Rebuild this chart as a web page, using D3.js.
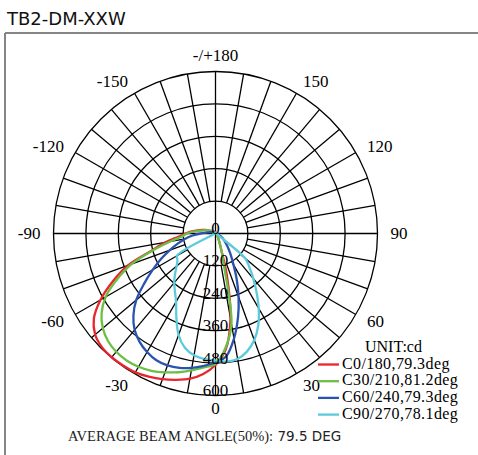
<!DOCTYPE html>
<html>
<head>
<meta charset="utf-8">
<script src="https://cdn.jsdelivr.net/npm/d3@7"></script>
<style>
    body { margin: 0; background: #fff; }
    svg { display: block; }
</style>
</head>
<body>
<svg id="polarSvg"></svg>
<script>
// polar candela diagram, drawn with d3

// measuring angles, -180 .. 175 step 5 (0 = straight down, negative = left)
let gammaAngles = [
    -180, -175, -170, -165, -160, -155, -150, -145, -140, -135, -130, -125,
    -120, -115, -110, -105, -100, -95, -90, -85, -80, -75, -70, -65,
    -60, -55, -50, -45, -40, -35, -30, -25, -20, -15, -10, -5,
    0, 5, 10, 15, 20, 25, 30, 35, 40, 45, 50, 55,
    60, 65, 70, 75, 80, 85, 90, 95, 100, 105, 110, 115,
    120, 125, 130, 135, 140, 145, 150, 155, 160, 165, 170, 175
];

// intensities in cd
let c0Values = [
    3, 3, 3, 4, 4, 5, 5, 6, 8, 10, 12, 15,
    20, 28, 38, 50, 68, 88, 110, 138, 188, 245, 345, 420,
    492, 550, 582, 595, 598, 597, 594, 585, 574, 561, 546, 522,
    487, 432, 320, 165, 58, 32, 20, 14, 11, 9, 8, 7,
    6, 6, 5, 5, 5, 4, 4, 4, 4, 4, 3, 3,
    3, 3, 3, 3, 3, 3, 3, 3, 3, 3, 3, 3
];
let c30Values = [
    3, 3, 3, 3, 4, 4, 5, 5, 7, 9, 11, 14,
    18, 25, 35, 45, 60, 83, 105, 125, 170, 240, 330, 402,
    470, 515, 545, 563, 572, 574, 570, 561, 547, 532, 515, 498,
    483, 425, 340, 120, 62, 32, 20, 14, 11, 9, 8, 7,
    6, 6, 5, 5, 5, 4, 4, 4, 4, 4, 3, 3,
    3, 3, 3, 3, 3, 3, 3, 3, 3, 3, 3, 3
];
let c60Values = [
    3, 3, 3, 3, 3, 4, 4, 4, 5, 6, 7, 9,
    10, 12, 15, 20, 25, 35, 55, 85, 115, 145, 180, 222,
    268, 322, 383, 430, 466, 490, 507, 518, 520, 515, 505, 492,
    478, 456, 395, 322, 250, 185, 133, 100, 76, 58, 45, 35,
    25, 18, 12, 9, 7, 6, 5, 5, 4, 4, 4, 3,
    3, 3, 3, 3, 3, 3, 3, 3, 3, 3, 3, 3
];
let c90Values = [
    3, 3, 3, 3, 3, 3, 3, 3, 3, 3, 4, 4,
    4, 4, 4, 4, 5, 5, 5, 6, 6, 7, 8, 15,
    165, 172, 188, 212, 238, 262, 292, 343, 400, 438, 458, 467,
    470, 476, 472, 452, 420, 375, 320, 265, 218, 178, 143, 20,
    10, 8, 6, 5, 5, 4, 4, 4, 4, 3, 3, 3,
    3, 3, 3, 3, 3, 3, 3, 3, 3, 3, 3, 3
];

let seriesNames = ["C0/180,79.3deg", "C30/210,81.2deg", "C60/240,79.3deg", "C90/270,78.1deg"];
let seriesColors = ["#e8262c", "#6cbf44", "#2a53b0", "#5ccadc"];

let ringValues = [120, 240, 360, 480, 600];
let ringLabels = ["120", "240", "360", "480", "600"];
let angleTicks = [180, -150, -120, -90, -60, -30, 0, 30, 60, 90, 120, 150];
let angleLabels = ["-/+180", "-150", "-120", "-90", "-60", "-30", "0", "30", "60", "90", "120", "150"];

let chartTitle = "TB2-DM-XXW";
let unitText = "UNIT:cd";
let footerText = "AVERAGE BEAM ANGLE(50%):";
let footerValue = " 79.5 DEG";

// layout
let svgWidth = 478, svgHeight = 455;
let center = {x: 215.5, y: 233.5};
let outerRadius = 162;
let labelRadius = 175;
let serifFont = "'Liberation Serif', 'Times New Roman', serif";
let sansFont = "'DejaVu Sans', sans-serif";

let rScale = d3.scaleLinear().domain([0, 600]).range([0, outerRadius]);

function toRad(deg) {
    return deg * Math.PI / 180;
}

function drawFrame(svg) {
    svg.append("line")
        .attr("x1", 5).attr("y1", 33).attr("x2", svgWidth).attr("y2", 33)
        .attr("stroke", "#858585").attr("stroke-width", 2);
    svg.append("line")
        .attr("x1", 5).attr("y1", 33).attr("x2", 5).attr("y2", svgHeight)
        .attr("stroke", "#858585").attr("stroke-width", 2);

    svg.append("text")
        .attr("x", 7).attr("y", 25)
        .attr("font-family", sansFont)
        .attr("font-size", 18)
        .attr("fill", "#111")
        .text(chartTitle);
}

function drawGrid(g) {
    g.selectAll("circle.ring")
        .data(ringValues)
        .enter()
        .append("circle")
        .attr("class", "ring")
        .attr("cx", 0).attr("cy", 0)
        .attr("r", function (d) { return rScale(d); })
        .attr("fill", "none")
        .attr("stroke", "#000")
        .attr("stroke-width", 1.3);

    // spokes every 10 deg, the main axes go right through the middle
    g.selectAll("line.spoke")
        .data(d3.range(0, 360, 10))
        .enter()
        .append("line")
        .attr("class", "spoke")
        .attr("x1", function (d) { return (d % 90 === 0 ? 0 : rScale(ringValues[0])) * Math.sin(toRad(d)); })
        .attr("y1", function (d) { return (d % 90 === 0 ? 0 : rScale(ringValues[0])) * Math.cos(toRad(d)); })
        .attr("x2", function (d) { return rScale(600) * Math.sin(toRad(d)); })
        .attr("y2", function (d) { return rScale(600) * Math.cos(toRad(d)); })
        .attr("stroke", "#000")
        .attr("stroke-width", 1.3);
}

function drawCurves(g) {
    let allSeries = [c0Values, c30Values, c60Values, c90Values];

    let radialLine = d3.lineRadial()
        .angle(function (d, i) { return Math.PI - toRad(gammaAngles[i]); })
        .radius(function (d) { return rScale(d); })
        .curve(d3.curveCatmullRomClosed.alpha(0.5));

    g.selectAll("path.curve")
        .data(allSeries)
        .enter()
        .append("path")
        .attr("class", "curve")
        .attr("d", function (d) { return radialLine(d); })
        .attr("fill", "none")
        .attr("stroke", function (d, i) { return seriesColors[i]; })
        .attr("stroke-width", 2.3)
        .attr("stroke-linejoin", "round");
}

function drawLabels(svg) {
    // ring values on the downward axis
    svg.selectAll("text.ringLabel")
        .data([0].concat(ringValues))
        .enter()
        .append("text")
        .attr("class", "ringLabel")
        .attr("x", center.x)
        .attr("y", function (d) { return center.y + rScale(d) - 5; })
        .attr("text-anchor", "middle")
        .attr("dominant-baseline", "central")
        .attr("font-family", serifFont)
        .attr("font-size", 17)
        .text(function (d, i) { return i === 0 ? "0" : ringLabels[i - 1]; });

    // angle labels sit just outside the ring, pushed away sideways
    svg.selectAll("text.angleLabel")
        .data(angleTicks)
        .enter()
        .append("text")
        .attr("class", "angleLabel")
        .attr("x", function (d) { return center.x + labelRadius * Math.sin(toRad(d)); })
        .attr("y", function (d) {
            let dy = labelRadius * Math.cos(toRad(d));
            return center.y + dy + (d === 180 ? -3 : 0);
        })
        .attr("text-anchor", function (d) {
            if (d === 0 || d === 180) return "middle";
            return d > 0 ? "start" : "end";
        })
        .attr("dominant-baseline", "central")
        .attr("font-family", serifFont)
        .attr("font-size", 17)
        .text(function (d, i) { return angleLabels[i]; });
}

function drawLegend(svg) {
    svg.append("text")
        .attr("x", 365).attr("y", 352)
        .attr("font-family", serifFont)
        .attr("font-size", 16)
        .text(unitText);

    let rows = svg.selectAll("g.legendRow")
        .data(seriesNames)
        .enter()
        .append("g")
        .attr("class", "legendRow")
        .attr("transform", function (d, i) { return "translate(0," + (368.5 + i * 16.7) + ")"; });

    rows.append("line")
        .attr("x1", 318).attr("x2", 339)
        .attr("y1", -4).attr("y2", -4)
        .attr("stroke", function (d, i) { return seriesColors[i]; })
        .attr("stroke-width", 2.3);

    rows.append("text")
        .attr("x", 342)
        .attr("font-family", serifFont)
        .attr("font-size", 16)
        .attr("letter-spacing", 0.4)
        .text(function (d) { return d; });

    let footer = svg.append("text")
        .attr("x", 68).attr("y", 441)
        .attr("font-family", serifFont)
        .attr("font-size", 14.5)
        .attr("fill", "#222")
        .text(footerText);
    footer.append("tspan")
        .attr("font-family", sansFont)
        .attr("font-size", 13.5)
        .text(footerValue);
}

function drawChart() {
    let svg = d3.select("#polarSvg")
        .attr("width", svgWidth)
        .attr("height", svgHeight);

    drawFrame(svg);

    let plot = svg.append("g")
        .attr("transform", "translate(" + center.x + "," + center.y + ")");

    drawGrid(plot);
    drawLabels(svg);
    drawCurves(plot);
    drawLegend(svg);
}

drawChart();
</script>
</body>
</html>
